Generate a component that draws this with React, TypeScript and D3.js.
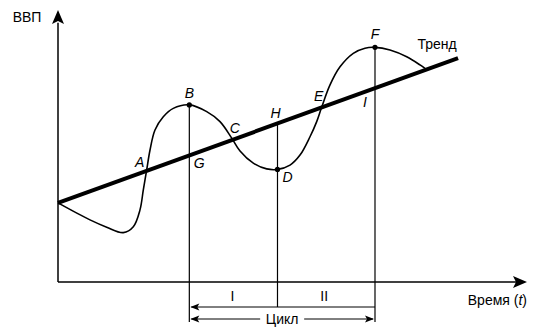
import React from "react";
import * as d3 from "d3";

// Business cycle curve (time t, GDP value v) in chart units 0..100
const cycleT = [0, 6.82, 10.38, 13.92, 16.06, 17.48, 18.19, 18.91, 19.62, 20.68, 22.45, 24.58, 28.0, 31.71, 34.54, 37.04, 38.81, 41.64, 44.5, 46.8, 49.47, 51.6, 53.73, 55.16, 56.23, 58.0, 60.13, 62.96, 65.46, 67.59, 70.79, 74.35, 77.19, 78.25];
const cycleV = [29.3, 23.0, 20.3, 18.3, 20.5, 26.7, 34.1, 41.5, 48.9, 56.3, 61.2, 64.3, 65.6, 63.1, 59.4, 53.3, 48.5, 44.0, 41.9, 41.7, 43.3, 47.0, 53.8, 59.4, 64.8, 73.0, 79.7, 84.7, 86.6, 86.9, 85.9, 83.4, 80.4, 79.1];

// Trend line endpoints
const trendT = [0, 85.3];
const trendV = [29.3, 82.9];

// Named points
const curveNames = ["A", "B", "C", "D", "E", "F"];
const curveT = [18.91, 28.0, 37.04, 46.8, 56.23, 67.59];
const trendNames = ["G", "H", "I"];
const trendAtT = [28.0, 46.8, 67.59];

// Turning points (dots) B, D, F
const dotT = [28.0, 46.8, 67.59];
const dotV = [65.6, 41.7, 86.9];

const phaseLabels = ["I", "II"];
const cycleLabel = "Цикл";
const yTitle = "ВВП";
const xTitle = "Время (";
const trendLabel = "Тренд";

const W = 535, H = 329;
const x = d3.scaleLinear().domain([0, 100]).range([58, 527]);
const y = d3.scaleLinear().domain([0, 100]).range([282, 12]);

const trendAt = (t: number) =>
  trendV[0] + ((trendV[1] - trendV[0]) * (t - trendT[0])) / (trendT[1] - trendT[0]);

const labelOffsets: Record<string, [number, number]> = {
  A: [-7, -8], B: [0, -12], C: [3, -10], D: [10, 8], E: [-3, -11], F: [0, -13],
  G: [10, 8], H: [-2, -10], I: [-10, 14],
};

export default function App() {
  const curvePts = cycleT.map((t, i) => [x(t), y(cycleV[i])] as [number, number]);
  const curvePath = d3.line().curve(d3.curveCatmullRom.alpha(0.5))(curvePts) || "";
  const curveInterp = (t: number) => {
    for (let i = 0; i < cycleT.length - 1; i++) {
      if (t >= cycleT[i] && t <= cycleT[i + 1]) {
        const f = (t - cycleT[i]) / (cycleT[i + 1] - cycleT[i]);
        return cycleV[i] + f * (cycleV[i + 1] - cycleV[i]);
      }
    }
    return cycleV[cycleV.length - 1];
  };

  const y0 = y(0);
  const xB = x(dotT[0]), xD = x(dotT[1]), xF = x(dotT[2]);
  const arrowTop = y0 + 25;
  const arrowBot = y0 + 37;
  const font = "'Liberation Sans', Arial, sans-serif";

  const letterStyle = { fontFamily: font, fontSize: 14, fontStyle: "italic" as const };

  return (
    <svg width={W} height={H} style={{ position: "absolute", left: 0, top: 0, background: "#fff" }}>
      {/* axes */}
      <line x1={x(0)} y1={y0} x2={x(0)} y2={y(96)} stroke="#000" strokeWidth={1.5} />
      <line x1={x(0)} y1={y0} x2={x(100) - 10} y2={y0} stroke="#000" strokeWidth={1.5} />
      <path d={`M${x(0)},${y(100) - 2} L${x(0) + 6},${y(100) + 12} L${x(0)},${y(100) + 9} L${x(0) - 6},${y(100) + 12} Z`} fill="#000" />
      <path d={`M${x(100)},${y0} L${x(100) - 14},${y0 - 6} L${x(100) - 11},${y0} L${x(100) - 14},${y0 + 6} Z`} fill="#000" />

      {/* verticals */}
      <line x1={xB} y1={y(dotV[0])} x2={xB} y2={arrowBot + 3} stroke="#000" strokeWidth={1.2} />
      <line x1={xD} y1={y(trendAt(dotT[1]))} x2={xD} y2={arrowTop} stroke="#000" strokeWidth={1.2} />
      <line x1={xF} y1={y(dotV[2])} x2={xF} y2={arrowBot + 3} stroke="#000" strokeWidth={1.2} />

      {/* phase arrow */}
      <line x1={xB + 2} y1={arrowTop} x2={xF} y2={arrowTop} stroke="#000" strokeWidth={1} />
      <path d={`M${xB + 1},${arrowTop} L${xB + 10},${arrowTop - 3.5} L${xB + 8},${arrowTop} L${xB + 10},${arrowTop + 3.5} Z`} fill="#000" />
      {/* cycle arrow */}
      <line x1={xB + 2} y1={arrowBot} x2={(xB + xF) / 2 - 22} y2={arrowBot} stroke="#000" strokeWidth={1} />
      <line x1={(xB + xF) / 2 + 22} y1={arrowBot} x2={xF - 2} y2={arrowBot} stroke="#000" strokeWidth={1} />
      <path d={`M${xB + 1},${arrowBot} L${xB + 10},${arrowBot - 3.5} L${xB + 8},${arrowBot} L${xB + 10},${arrowBot + 3.5} Z`} fill="#000" />
      <path d={`M${xF - 1},${arrowBot} L${xF - 10},${arrowBot - 3.5} L${xF - 8},${arrowBot} L${xF - 10},${arrowBot + 3.5} Z`} fill="#000" />
      <text x={(xB + xF) / 2} y={arrowBot} dy="0.35em" textAnchor="middle" fontFamily={font} fontSize={14}>{cycleLabel}</text>
      <text x={(xB + xD) / 2 - 1} y={y0 + 14} dy="0.35em" textAnchor="middle" fontFamily={font} fontSize={14}>{phaseLabels[0]}</text>
      <text x={(xD + xF) / 2 - 2} y={y0 + 14} dy="0.35em" textAnchor="middle" fontFamily={font} fontSize={14}>{phaseLabels[1]}</text>

      {/* trend */}
      <line x1={x(trendT[0])} y1={y(trendV[0])} x2={x(trendT[1])} y2={y(trendV[1])} stroke="#000" strokeWidth={4} />
      {/* cycle curve */}
      <path d={curvePath} fill="none" stroke="#000" strokeWidth={1.6} strokeLinejoin="round" />

      {/* dots */}
      {dotT.map((t, i) => (
        <circle key={i} cx={x(t)} cy={y(dotV[i])} r={2.6} fill="#000" />
      ))}

      {/* labels on curve */}
      {curveNames.map((n, i) => {
        const t = curveT[i];
        const [dx, dy] = labelOffsets[n];
        return (
          <text key={n} x={x(t) + dx} y={y(curveInterp(t)) + dy} dy="0.35em" textAnchor="middle" style={letterStyle}>{n}</text>
        );
      })}
      {trendNames.map((n, i) => {
        const t = trendAtT[i];
        const [dx, dy] = labelOffsets[n];
        return (
          <text key={n} x={x(t) + dx} y={y(trendAt(t)) + dy} dy="0.35em" textAnchor="middle" style={letterStyle}>{n}</text>
        );
      })}

      <text x={x(trendT[1]) - 21} y={y(trendV[1]) - 14} dy="0.35em" textAnchor="middle" fontFamily={font} fontSize={14}>{trendLabel}</text>
      <text x={27} y={17.5} dy="0.35em" textAnchor="middle" fontFamily={font} fontSize={14}>{yTitle}</text>
      <text x={527} y={y0 + 18} dy="0.35em" textAnchor="end" fontFamily={font} fontSize={14}>
        {xTitle}<tspan fontStyle="italic">t</tspan>{")"}
      </text>
    </svg>
  );
}
